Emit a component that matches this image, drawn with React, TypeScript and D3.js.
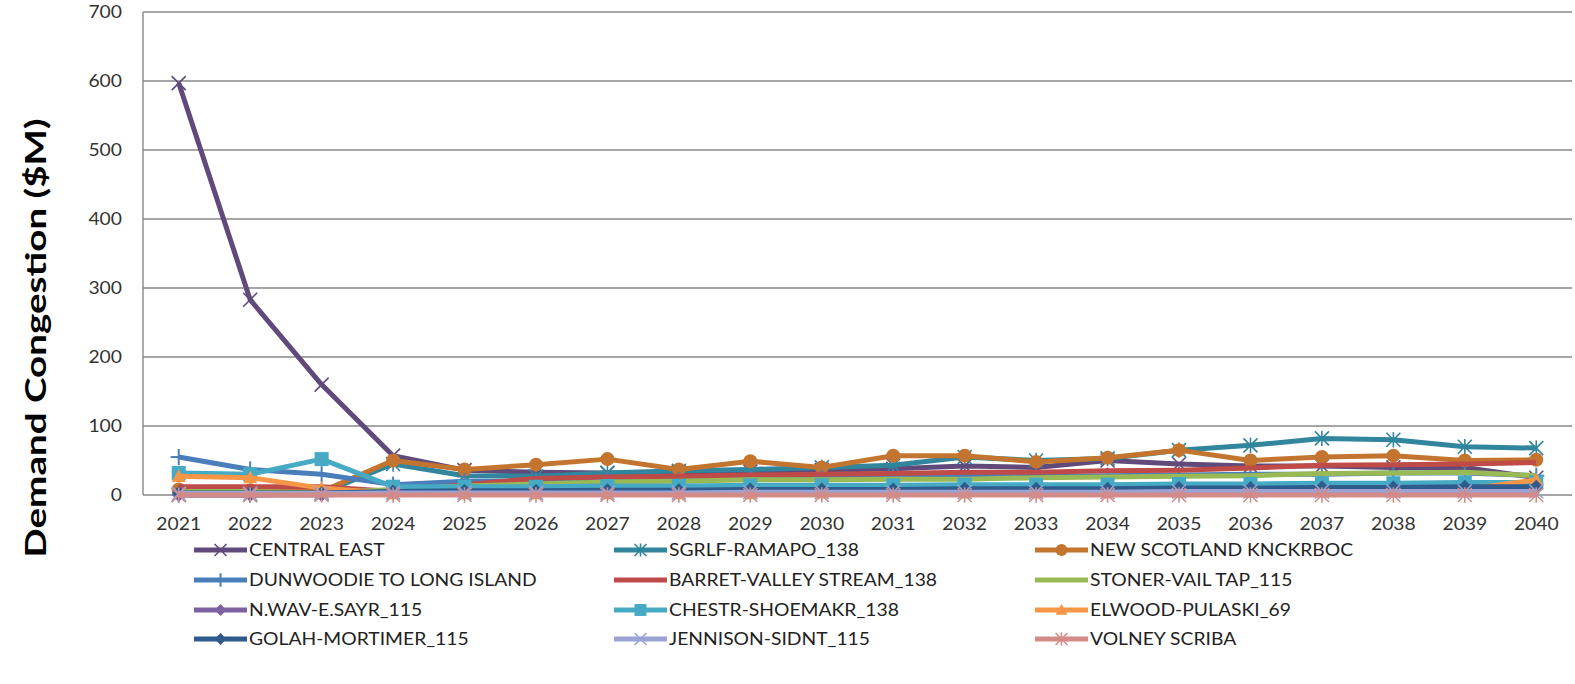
import React from "react";
import * as d3 from "d3";

const years = ["2021","2022","2023","2024","2025","2026","2027","2028","2029","2030","2031","2032","2033","2034","2035","2036","2037","2038","2039","2040"];
const yTicks = [0, 100, 200, 300, 400, 500, 600, 700];

const seriesNames = [
  "CENTRAL EAST", "SGRLF-RAMAPO_138", "NEW SCOTLAND KNCKRBOC",
  "DUNWOODIE TO LONG ISLAND", "BARRET-VALLEY STREAM_138", "STONER-VAIL TAP_115",
  "N.WAV-E.SAYR_115", "CHESTR-SHOEMAKR_138", "ELWOOD-PULASKI_69",
  "GOLAH-MORTIMER_115", "JENNISON-SIDNT_115", "VOLNEY SCRIBA",
];

const centralEast = [597, 283, 160, 57, 36, 33, 32, 33, 34, 36, 38, 42, 40, 50, 45, 42, 42, 40, 40, 25];
const sgrlfRamapo = [0, 0, 3, 45, 28, 27, 32, 35, 37, 40, 43, 55, 50, 53, 65, 72, 82, 80, 70, 68];
const newScotland = [8, 7, 5, 50, 37, 44, 52, 37, 49, 40, 57, 57, 48, 54, 65, 50, 55, 57, 50, 51];
const dunwoodie = [55, 37, 30, 15, 20, 20, 22, 22, 24, 25, 26, 27, 27, 28, 29, 30, 30, 32, 32, 28];
const barret = [12, 12, 12, 5, 15, 24, 26, 27, 29, 30, 31, 33, 33, 35, 36, 39, 43, 44, 45, 47];
const stoner = [5, 5, 3, 8, 13, 16, 19, 20, 22, 22, 23, 23, 25, 26, 27, 28, 31, 32, 33, 28];
const nwav = [0, 0, 0, 3, 5, 6, 7, 8, 8, 9, 9, 10, 10, 11, 12, 13, 14, 15, 15, 16];
const chestr = [32, 30, 52, 12, 12, 12, 13, 13, 14, 14, 14, 15, 15, 15, 16, 16, 17, 17, 18, 18];
const elwood = [27, 25, 10, 2, 2, 2, 2, 2, 2, 3, 3, 3, 3, 3, 4, 4, 5, 5, 8, 22];
const golah = [3, 3, 3, 5, 6, 6, 7, 7, 8, 8, 8, 9, 9, 9, 10, 10, 11, 11, 12, 12];
const jennison = [2, 2, 2, 3, 3, 3, 3, 3, 4, 4, 4, 4, 4, 4, 5, 5, 5, 5, 5, 5];
const volney = [0, 0, 0, 0, 0, 0, 0, 0, 0, 0, 0, 0, 0, 0, 0, 0, 0, 0, 0, 0];

const seriesValues = [centralEast, sgrlfRamapo, newScotland, dunwoodie, barret, stoner, nwav, chestr, elwood, golah, jennison, volney];
const seriesColors = ["#604A7B", "#31859C", "#C3752F", "#4A7EBB", "#BE4B48", "#98B954", "#7D60A0", "#46AAC5", "#F79646", "#2F5B8C", "#9AA3D3", "#D38B89"];
const seriesMarkers = ["x", "star", "circle", "plus", "none", "none", "diamond", "square", "triangle", "diamond", "x", "star"];

const W = 1575, H = 684;
const PL = 143, PR = 1572, PT = 12, PB = 495;
const SX = 1.17;
const FONT = "Lato, 'Open Sans', sans-serif";

function Marker({ type, cx, cy, color, s = 1 }: { type: string; cx: number; cy: number; color: string; s?: number }) {
  const r = 7 * s;
  switch (type) {
    case "x":
      return (
        <g stroke={color} strokeWidth={1.6}>
          <line x1={cx - r} y1={cy - r} x2={cx + r} y2={cy + r} />
          <line x1={cx - r} y1={cy + r} x2={cx + r} y2={cy - r} />
        </g>
      );
    case "star":
      return (
        <g stroke={color} strokeWidth={1.6}>
          <line x1={cx - r} y1={cy - r} x2={cx + r} y2={cy + r} />
          <line x1={cx - r} y1={cy + r} x2={cx + r} y2={cy - r} />
          <line x1={cx} y1={cy - r * 1.1} x2={cx} y2={cy + r * 1.1} />
        </g>
      );
    case "plus":
      return (
        <g stroke={color} strokeWidth={2}>
          <line x1={cx - r * 1.15} y1={cy} x2={cx + r * 1.15} y2={cy} />
          <line x1={cx} y1={cy - r * 1.15} x2={cx} y2={cy + r * 1.15} />
        </g>
      );
    case "circle":
      return <circle cx={cx} cy={cy} r={r} fill={color} />;
    case "square":
      return <rect x={cx - r} y={cy - r} width={2 * r} height={2 * r} fill={color} />;
    case "diamond":
      return <path d={`M${cx},${cy - r}L${cx + r},${cy}L${cx},${cy + r}L${cx - r},${cy}Z`} fill={color} />;
    case "triangle":
      return <path d={`M${cx},${cy - r}L${cx + r},${cy + r * 0.8}L${cx - r},${cy + r * 0.8}Z`} fill={color} />;
    default:
      return null;
  }
}

export default function App() {
  const x = d3.scaleBand<string>().domain(years).range([PL, PR]);
  const xc = (yr: string) => (x(yr) as number) + x.bandwidth() / 2;
  const y = d3.scaleLinear().domain([0, 700]).range([PB, PT]);
  const line = d3.line<number>().x((_, i) => xc(years[i])).y((v) => y(v));

  const legendCols = [194, 614, 1035];
  const legendRows = [550, 580, 610, 639];

  return (
    <svg width={W} height={H} style={{ display: "block", position: "absolute", left: 0, top: 0 }} fontFamily={FONT}>
      <rect width={W} height={H} fill="#fff" />
      {yTicks.map((t) => (
        <line key={t} x1={PL} x2={PR} y1={y(t)} y2={y(t)} stroke="#878787" strokeWidth={1.4} />
      ))}
      <line x1={PL} x2={PL} y1={PT} y2={PB} stroke="#878787" strokeWidth={1.4} />
      {yTicks.map((t) => (
        <text key={t} transform={`translate(122,${y(t) + 6}) scale(${SX},1)`} textAnchor="end" fontSize={16.5} fill="#333">
          {t}
        </text>
      ))}
      {years.map((yr) => (
        <text key={yr} transform={`translate(${xc(yr)},530) scale(${SX},1)`} textAnchor="middle" fontSize={16.5} fill="#333">
          {yr}
        </text>
      ))}
      <text transform={`translate(46,338) rotate(-90) scale(1.33,1)`} textAnchor="middle" fontSize={29} fontWeight="bold" fill="#000">
        Demand Congestion ($M)
      </text>
      {seriesValues.map((vals, si) => (
        <g key={si}>
          <path d={line(vals) || ""} fill="none" stroke={seriesColors[si]} strokeWidth={5} strokeLinejoin="round" />
          {vals.map((v, i) => (
            <Marker key={i} type={seriesMarkers[si]} cx={xc(years[i])} cy={y(v)} color={seriesColors[si]} />
          ))}
        </g>
      ))}
      {seriesNames.map((name, si) => {
        const col = si % 3;
        const row = Math.floor(si / 3);
        const lx = legendCols[col];
        const ly = legendRows[row];
        return (
          <g key={name}>
            <line x1={lx} x2={lx + 53} y1={ly} y2={ly} stroke={seriesColors[si]} strokeWidth={5} />
            <Marker type={seriesMarkers[si]} cx={lx + 26.5} cy={ly} color={seriesColors[si]} s={0.85} />
            <text transform={`translate(${lx + 55},${ly + 6}) scale(${SX},1)`} fontSize={16.5} fill="#222">
              {name}
            </text>
          </g>
        );
      })}
    </svg>
  );
}
